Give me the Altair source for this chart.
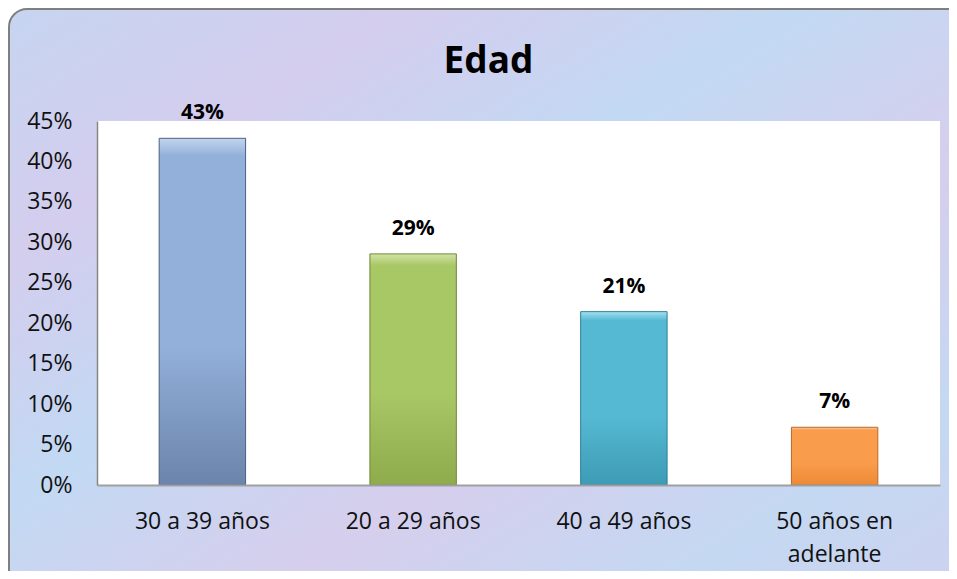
import altair as alt
import pandas as pd

# ---- data ----
categories = ["30 a 39 años", "20 a 29 años", "40 a 49 años", "50 años en adelante"]
values = [0.4286, 0.2857, 0.2143, 0.0714]
y_ticks = [0, 0.05, 0.10, 0.15, 0.20, 0.25, 0.30, 0.35, 0.40, 0.45]
title_text = "Edad"

# bar styles: (light top, main, darker bottom, outline)
bar_styles = [
    ("#c3d5ee", "#93b0da", "#6b84ab", "#4a5f82"),
    ("#d2e4a6", "#a8c765", "#8fab4d", "#6e8a35"),
    ("#a4dff0", "#56b9d3", "#3d9bb5", "#2b7f96"),
    ("#fcc99c", "#f99d4d", "#ee8a35", "#b9682a"),
]

df = pd.DataFrame({"cat": categories, "val": values})
one = pd.DataFrame({"k": [0]})

FONT = "Open Sans"
W, H = 843, 364

x_enc = alt.X(
    "cat:N",
    sort=categories,
    scale=alt.Scale(paddingInner=0.59, paddingOuter=0.295),
    axis=alt.Axis(
        title=None, labelAngle=0, ticks=False, grid=False,
        domainColor="#a0a0a0", domainWidth=2,
        labelFont=FONT, labelFontSize=23, labelColor="#111111",
        labelPadding=25, labelLineHeight=33, zindex=1,
        labelExpr="datum.value == '50 años en adelante' ? ['50 años en', 'adelante'] : datum.value",
    ),
)
y_enc = alt.Y(
    "val:Q",
    scale=alt.Scale(domain=[0, 0.45], nice=False),
    axis=alt.Axis(
        title=None, values=y_ticks, format=".0%", ticks=False, grid=False,
        domainColor="#868686", domainWidth=1.5,
        labelFont=FONT, labelFontSize=23, labelColor="#111111",
        labelPadding=25, zindex=1,
    ),
)

texture = alt.LinearGradient(
    gradient="linear",
    x1=0, y1=0, x2=1, y2=1,
    stops=[
        alt.GradientStop(color="#c6d5f1", offset=0.0),
        alt.GradientStop(color="#d4cdee", offset=0.2),
        alt.GradientStop(color="#c2d9f3", offset=0.4),
        alt.GradientStop(color="#d6ceed", offset=0.6),
        alt.GradientStop(color="#c4d8f2", offset=0.8),
        alt.GradientStop(color="#cfd0ef", offset=1.0),
    ],
)

frame = alt.Chart(one).mark_rect(
    fill=texture, stroke="#7f7f7f", strokeWidth=2, cornerRadius=18, clip=False
).encode(
    x=alt.value(-88), x2=alt.value(W + 60),
    y=alt.value(-112), y2=alt.value(H + 140),
)

plot_bg = alt.Chart(one).mark_rect(fill="white").encode(
    x=alt.value(0), x2=alt.value(W), y=alt.value(0), y2=alt.value(H)
)

bar_layers = []
for cat, (light, main, dark, outline) in zip(categories, bar_styles):
    grad = alt.LinearGradient(
        gradient="linear", x1=0, y1=0, x2=0, y2=1,
        stops=[
            alt.GradientStop(color=light, offset=0.0),
            alt.GradientStop(color=main, offset=0.05),
            alt.GradientStop(color=main, offset=0.6),
            alt.GradientStop(color=dark, offset=1.0),
        ],
    )
    bar_layers.append(
        alt.Chart(df).transform_filter(alt.datum.cat == cat)
        .mark_bar(fill=grad, stroke=outline, strokeWidth=1)
        .encode(x=x_enc, y=y_enc)
    )

labels = alt.Chart(df).mark_text(
    font=FONT, fontSize=21, fontWeight="bold", color="black",
    baseline="alphabetic", dy=-19,
).encode(
    x=alt.X("cat:N", sort=categories),
    y="val:Q",
    text=alt.Text("val:Q", format=".0%"),
)

chart = alt.layer(frame, plot_bg, *bar_layers, labels).properties(
    width=W, height=H,
    padding={"left": 89, "top": 113, "right": 9, "bottom": 86},
    autosize=alt.AutoSizeParams(type="none"),
    background="white",
    title=alt.Title(
        title_text, font=FONT, fontSize=37, fontWeight="bold", color="black",
        anchor="middle", frame="group", dx=-30, baseline="alphabetic",
        offset=0, dy=102,
    ),
).configure_view(stroke=None)

chart.save("out.html", embed_options={"renderer": "svg", "actions": False})
